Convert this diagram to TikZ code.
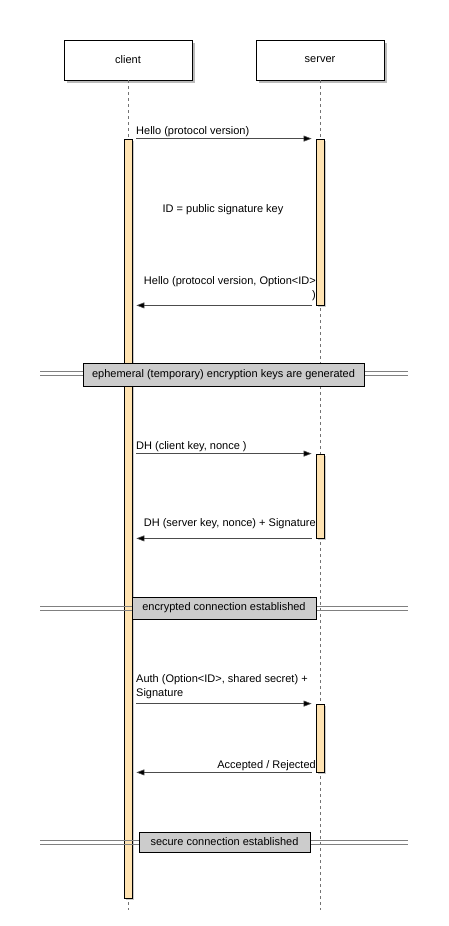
\documentclass[tikz,border=0pt]{standalone}
\usepackage{fontspec}
\setmainfont{Liberation Sans}
\usetikzlibrary{arrows.meta,shadows}
\definecolor{actfill}{RGB}{255,227,178}
\definecolor{divfill}{RGB}{204,204,204}
\tikzset{
  participant/.style={draw=black, fill=white, line width=0.8pt, minimum width=128pt, minimum height=40pt,
    drop shadow={shadow xshift=3pt, shadow yshift=-3pt, opacity=0.45, fill=black!60}, font=\fontsize{11}{13}\selectfont},
  lifeline/.style={draw=black!55, dash pattern=on 3pt off 3pt, line width=0.6pt},
  actbar/.style={draw=black, fill=actfill, line width=0.8pt, minimum width=8pt, inner sep=0pt,
    drop shadow={shadow xshift=2pt, shadow yshift=-2pt, opacity=0.35, fill=black!60}},
  msg/.style={draw=black!70, line width=0.6pt, -{Triangle[length=8pt,width=6pt,fill=black]}, shorten <=4pt, shorten >=4pt},
  lbl/.style={inner sep=0pt, font=\fontsize{11}{14}\selectfont},
  divline/.style={draw=black!50, line width=0.7pt},
  divbox/.style={draw=black, fill=divfill, line width=0.8pt, inner sep=0pt, font=\fontsize{11}{13}\selectfont},
}
\begin{document}
\begin{tikzpicture}[x=1pt,y=-1pt]
\useasboundingbox (0,0) rectangle (448,926);
% participants
\node[participant] (client) at (128,60) {client};
\node[participant] (server) at (320,60) {server};
\coordinate (cend) at (128,910);
\coordinate (send) at (320,910);
\draw[lifeline] (client.south) -- (cend);
\draw[lifeline] (server.south) -- (send);
% activation bars
\node[actbar, minimum height=759pt] (ca) at (128,518.5) {};
\node[actbar, minimum height=166pt] (sa1) at (320,222) {};
\node[actbar, minimum height=84pt] (sa2) at (320,496) {};
\node[actbar, minimum height=68pt] (sa3) at (320,738) {};
% messages block 1
\draw[msg] (ca.east |- sa1.north) -- (sa1.north west);
\node[lbl, anchor=base west] (m1) at (136,134) {Hello (protocol version)};
\node[lbl] (note) at (223,210) {ID = public signature key};
\draw[msg] (sa1.south west) -- (ca.east |- sa1.south);
\node[lbl, anchor=south east, align=right] (m2) at (316,301) {Hello (protocol version, Option<ID>\\)};
% divider 1
\coordinate (d1l) at (40,373);
\coordinate (d1r) at (408,373);
\draw[divline] ([yshift=2pt]d1l) -- ([yshift=2pt]d1r);
\draw[divline] ([yshift=-2pt]d1l) -- ([yshift=-2pt]d1r);
\node[divbox, minimum width=281pt, minimum height=23pt] (div1) at (223.5,374.5) {ephemeral (temporary) encryption keys are generated};
% messages block 2
\draw[msg] (ca.east |- sa2.north) -- (sa2.north west);
\node[lbl, anchor=base west] (m3) at (136,449) {DH (client key, nonce )};
\draw[msg] (sa2.south west) -- (ca.east |- sa2.south);
\node[lbl, anchor=base east] (m4) at (316,526) {DH (server key, nonce) + Signature};
% divider 2
\coordinate (d2l) at (40,608);
\coordinate (d2r) at (408,608);
\draw[divline] ([yshift=2pt]d2l) -- ([yshift=2pt]d2r);
\draw[divline] ([yshift=-2pt]d2l) -- ([yshift=-2pt]d2r);
\node[divbox, minimum width=184pt, minimum height=22pt] (div2) at (224,608) {encrypted connection established};
% messages block 3
\draw[msg] (ca.east |- sa3.north) -- (sa3.north west);
\node[lbl, anchor=south west, align=left] (m5) at (136,699) {Auth (Option<ID>, shared secret) +\\Signature};
\draw[msg] (sa3.south west) -- (ca.east |- sa3.south);
\node[lbl, anchor=base east] (m6) at (316,768) {Accepted / Rejected};
% divider 3
\coordinate (d3l) at (40,842.5);
\coordinate (d3r) at (408,842.5);
\draw[divline] ([yshift=2pt]d3l) -- ([yshift=2pt]d3r);
\draw[divline] ([yshift=-2pt]d3l) -- ([yshift=-2pt]d3r);
\node[divbox, minimum width=171pt, minimum height=20pt] (div3) at (224.5,842) {secure connection established};
\end{tikzpicture}
\end{document}
